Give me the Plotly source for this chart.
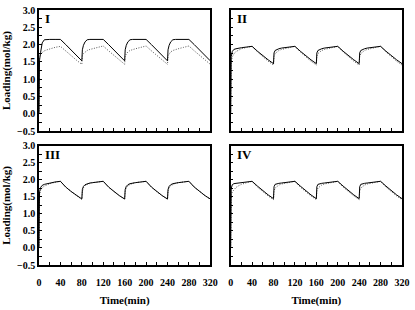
import plotly.graph_objects as go

time_min = [0, 1, 3, 6, 10, 15, 20, 30, 40, 50, 60, 70, 80,
            81, 83, 86, 90, 95, 100, 110, 120, 130, 140, 150, 160,
            161, 163, 166, 170, 175, 180, 190, 200, 210, 220, 230, 240,
            241, 243, 246, 250, 255, 260, 270, 280, 290, 300, 310, 320]

panel_labels = ["I", "II", "III", "IV"]

# Panel I
p1_solid = [0.00, 1.55, 1.78, 2.05, 2.14, 2.15, 2.15, 2.15, 2.15, 2.00, 1.84, 1.69, 1.53,
            1.85, 1.98, 2.08, 2.14, 2.15, 2.15, 2.15, 2.15, 2.00, 1.84, 1.69, 1.53,
            1.85, 1.98, 2.08, 2.14, 2.15, 2.15, 2.15, 2.15, 2.00, 1.84, 1.69, 1.53,
            1.85, 1.98, 2.08, 2.14, 2.15, 2.15, 2.15, 2.15, 2.00, 1.84, 1.69, 1.53]
p1_dot = [0.00, 1.62, 1.73, 1.78, 1.82, 1.85, 1.88, 1.92, 1.95, 1.81, 1.68, 1.55, 1.43,
          1.68, 1.74, 1.79, 1.83, 1.86, 1.88, 1.92, 1.96, 1.82, 1.69, 1.56, 1.43,
          1.68, 1.74, 1.79, 1.83, 1.86, 1.88, 1.92, 1.96, 1.82, 1.69, 1.56, 1.43,
          1.68, 1.74, 1.79, 1.83, 1.86, 1.88, 1.92, 1.96, 1.82, 1.69, 1.56, 1.43]
# Panel II
p2_solid = [0.00, 1.65, 1.80, 1.86, 1.88, 1.90, 1.91, 1.93, 1.95, 1.81, 1.68, 1.56, 1.45,
            1.76, 1.83, 1.86, 1.88, 1.90, 1.91, 1.93, 1.95, 1.81, 1.68, 1.56, 1.45,
            1.76, 1.83, 1.86, 1.88, 1.90, 1.91, 1.93, 1.95, 1.81, 1.68, 1.56, 1.45,
            1.76, 1.83, 1.86, 1.88, 1.90, 1.91, 1.93, 1.95, 1.81, 1.68, 1.56, 1.45]
p2_dot = [0.00, 1.50, 1.64, 1.73, 1.80, 1.85, 1.88, 1.92, 1.95, 1.79, 1.65, 1.52, 1.41,
          1.66, 1.74, 1.79, 1.83, 1.86, 1.88, 1.92, 1.95, 1.79, 1.65, 1.52, 1.41,
          1.66, 1.74, 1.79, 1.83, 1.86, 1.88, 1.92, 1.95, 1.79, 1.65, 1.52, 1.41,
          1.66, 1.74, 1.79, 1.83, 1.86, 1.88, 1.92, 1.95, 1.79, 1.65, 1.52, 1.41]
# Panel III
p3_solid = [0.00, 1.65, 1.78, 1.84, 1.87, 1.89, 1.91, 1.94, 1.96, 1.79, 1.66, 1.54, 1.44,
            1.72, 1.81, 1.86, 1.89, 1.91, 1.92, 1.94, 1.96, 1.79, 1.66, 1.54, 1.44,
            1.72, 1.81, 1.86, 1.89, 1.91, 1.92, 1.94, 1.96, 1.79, 1.66, 1.54, 1.44,
            1.72, 1.81, 1.86, 1.89, 1.91, 1.92, 1.94, 1.96, 1.79, 1.66, 1.54, 1.44]
p3_dot = [0.00, 1.55, 1.70, 1.77, 1.82, 1.86, 1.89, 1.93, 1.96, 1.79, 1.65, 1.54, 1.43,
          1.66, 1.77, 1.83, 1.87, 1.90, 1.92, 1.94, 1.96, 1.79, 1.65, 1.54, 1.43,
          1.66, 1.77, 1.83, 1.87, 1.90, 1.92, 1.94, 1.96, 1.79, 1.65, 1.54, 1.43,
          1.66, 1.77, 1.83, 1.87, 1.90, 1.92, 1.94, 1.96, 1.79, 1.65, 1.54, 1.43]
# Panel IV
p4_solid = [0.00, 1.75, 1.86, 1.89, 1.90, 1.91, 1.92, 1.94, 1.96, 1.82, 1.68, 1.56, 1.45,
            1.80, 1.87, 1.89, 1.90, 1.91, 1.92, 1.94, 1.96, 1.82, 1.68, 1.56, 1.45,
            1.80, 1.87, 1.89, 1.90, 1.91, 1.92, 1.94, 1.96, 1.82, 1.68, 1.56, 1.45,
            1.80, 1.87, 1.89, 1.90, 1.91, 1.92, 1.94, 1.96, 1.82, 1.68, 1.56, 1.45]
p4_dot = [0.00, 1.55, 1.65, 1.72, 1.78, 1.83, 1.87, 1.92, 1.96, 1.79, 1.65, 1.53, 1.42,
          1.68, 1.76, 1.81, 1.85, 1.88, 1.90, 1.93, 1.96, 1.79, 1.65, 1.53, 1.42,
          1.68, 1.76, 1.81, 1.85, 1.88, 1.90, 1.93, 1.96, 1.79, 1.65, 1.53, 1.42,
          1.68, 1.76, 1.81, 1.85, 1.88, 1.90, 1.93, 1.96, 1.79, 1.65, 1.53, 1.42]

x_ticks = [0, 40, 80, 120, 160, 200, 240, 280, 320]
y_ticks = [-0.5, 0.0, 0.5, 1.0, 1.5, 2.0, 2.5, 3.0]

FONT = "Liberation Serif, Times New Roman, serif"

fig = go.Figure()
panels = [(p1_solid, p1_dot), (p2_solid, p2_dot), (p3_solid, p3_dot), (p4_solid, p4_dot)]
for i, (s, d) in enumerate(panels):
    suf = "" if i == 0 else str(i + 1)
    fig.add_trace(go.Scatter(x=time_min, y=d, mode="lines", xaxis="x" + suf, yaxis="y" + suf,
                             line=dict(color="#555555", width=1, dash="1px,1.5px"), showlegend=False))
    fig.add_trace(go.Scatter(x=time_min, y=s, mode="lines", xaxis="x" + suf, yaxis="y" + suf,
                             line=dict(color="black", width=1), showlegend=False))

xdom = [[0, 0.472], [0.528, 1.0], [0, 0.472], [0.528, 1.0]]
ydom = [[0.525, 1.0], [0.525, 1.0], [0, 0.467], [0, 0.467]]

layout = dict(
    width=415, height=310,
    margin=dict(l=37, r=5, t=5, b=29),
    paper_bgcolor="white", plot_bgcolor="white",
    font=dict(family=FONT, size=10, color="black"),
)
for i in range(4):
    suf = "" if i == 0 else str(i + 1)
    bottom = i >= 2
    left = i % 2 == 0
    layout["xaxis" + suf] = dict(
        domain=xdom[i], range=[0, 320], anchor="y" + suf,
        tickvals=x_ticks, showticklabels=bottom,
        ticks="inside", ticklen=3, tickwidth=1, tickcolor="black",
        ticklabelstandoff=7,
        minor=dict(dtick=20, tick0=0, ticks="inside", ticklen=3, tickwidth=1, tickcolor="black"),
        showline=True, linecolor="black", linewidth=1.5, mirror=True,
        showgrid=False, zeroline=False,
        tickfont=dict(family=FONT, size=10, weight="bold"),
        title=dict(text="Time(min)", font=dict(family=FONT, size=11, weight="bold"), standoff=10) if bottom else None,
    )
    layout["yaxis" + suf] = dict(
        domain=ydom[i], range=[-0.5, 3.0], anchor="x" + suf,
        tickvals=y_ticks, tickformat=".1f", showticklabels=left,
        ticks="inside", ticklen=3, tickwidth=1, tickcolor="black",
        minor=dict(dtick=0.25, tick0=0, ticks="inside", ticklen=3, tickwidth=1, tickcolor="black"),
        showline=True, linecolor="black", linewidth=1.5, mirror=True,
        showgrid=False, zeroline=False,
        tickfont=dict(family=FONT, size=10, weight="bold"),
        title=dict(text="Loading(mol/kg)", font=dict(family=FONT, size=11, weight="bold"), standoff=4) if left else None,
    )
fig.update_layout(**layout)

label_pos = [(0.0, 1.0), (0.528, 1.0), (0.0, 0.467), (0.528, 0.467)]
for lab, (xp, yp) in zip(panel_labels, label_pos):
    fig.add_annotation(text=lab, xref="paper", yref="paper", x=xp + 0.012, y=yp + 0.005,
                       xanchor="left", yanchor="top", showarrow=False,
                       font=dict(family=FONT, size=13, weight="bold", color="black"))

fig.write_html("out.html")
